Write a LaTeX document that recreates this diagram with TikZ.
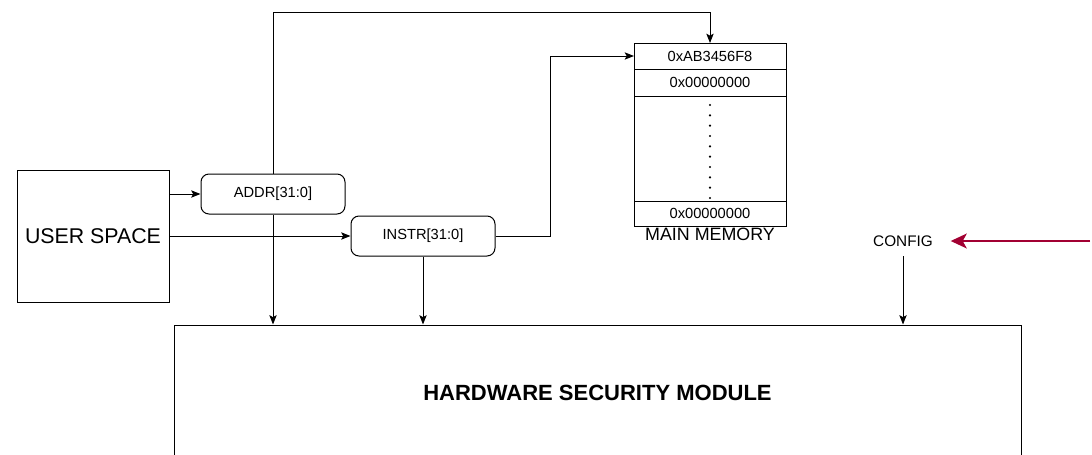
\documentclass[tikz,border=0pt]{standalone}
\usepackage{fontspec}
\setmainfont{Liberation Sans}
\usetikzlibrary{arrows.meta, positioning, calc}

\definecolor{cfgred}{RGB}{162,0,50}

\begin{document}
\begin{tikzpicture}[x=0.75pt, y=-0.75pt, line width=0.75pt,
    >={Stealth[length=7pt,width=5.5pt,inset=1.5pt]},
    box/.style={draw, rectangle, inner sep=0pt},
    bus/.style={draw, rounded corners=6pt, minimum width=108pt, minimum height=30pt, font=\fontsize{11}{13}\selectfont},
    cell/.style={draw, minimum width=114pt, inner sep=0pt, outer sep=0pt, font=\fontsize{11}{13}\selectfont},
    redarrow/.style={draw=cfgred, line width=2.2pt, -{Stealth[length=12pt,width=11pt,inset=3pt]}, shorten >=6pt}]
\useasboundingbox (0,0) rectangle (1092,454);

% Blocks
\node[box, minimum width=114pt, minimum height=99pt, font=\fontsize{16}{19}\selectfont] (user) at (93,236) {USER SPACE};
\node[bus] (addr) at (273,194) {ADDR[31:0]};
\node[bus] (instr) at (423,236) {INSTR[31:0]};
\node[box, minimum width=635.25pt, minimum height=101.25pt, font=\bfseries\fontsize{16.5}{19}\selectfont] (hsm) at (597.5,392.5) {HARDWARE SECURITY MODULE};

% Main memory
\node[cell, minimum height=19.5pt] (mem1) at (710,56) {0xAB3456F8};
\node[cell, minimum height=20.25pt, below=0pt of mem1] (mem2) {0x00000000};
\node[cell, minimum height=78.75pt, below=0pt of mem2] (memdots) {};
\node[cell, minimum height=18.75pt, below=0pt of memdots] (mem3) {0x00000000};
\node[below=0pt of mem3, inner sep=1.5pt, font=\fontsize{13.4}{16}\selectfont] (memlabel) {MAIN MEMORY};
\foreach \i in {0,...,9} {
    \fill (710,{105+10.33*\i}) circle (0.9pt);
}

\node[font=\fontsize{11.5}{14}\selectfont, inner sep=7pt] (config) at (903,241) {CONFIG};
\coordinate (cfgin) at (1090,241);

% Connections
\draw[->] (user.east |- addr.west) -- (addr.west);
\draw[->] (user.east) -- (instr.west);
\draw[->] (addr.north) -- ++(0,-161) -| (mem1.north);
\draw[->] (instr.east) -- ++(55,0) |- (mem1.west);
\draw[->] (addr.south) -- (addr.south |- hsm.north);
\draw[->] (instr.south) -- (instr.south |- hsm.north);
\draw[->] (config.south) -- (config.south |- hsm.north);
\draw[redarrow] (cfgin) -- (config.east);
\end{tikzpicture}
\end{document}
